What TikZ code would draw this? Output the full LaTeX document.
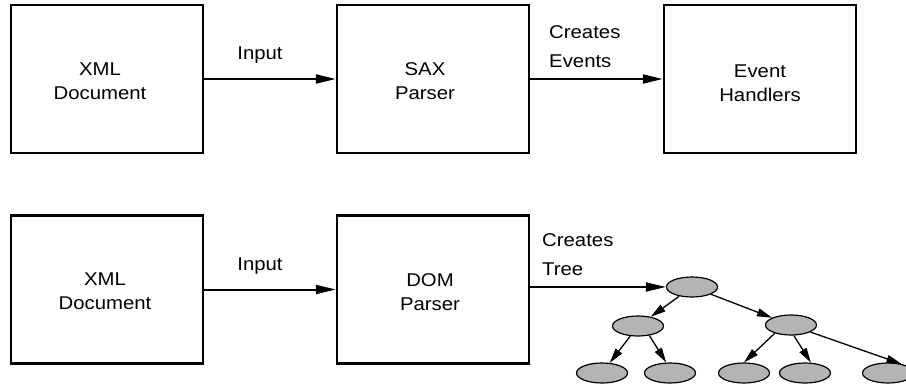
\documentclass[tikz,border=0pt]{standalone}
\usepackage{fontspec}
\setmainfont{Liberation Sans}[FakeStretch=1.1]
\usetikzlibrary{arrows.meta,shapes.geometric}
\definecolor{nodegray}{RGB}{180,180,180}
\begin{document}
\begin{tikzpicture}[x=1pt,y=-1pt,
  box/.style={draw,line width=2.4pt,minimum width=192pt,minimum height=148pt,inner sep=0pt},
  boxtext/.style={align=center,font=\fontsize{18.5}{24}\selectfont,text depth=0pt,inner sep=0pt},
  flowlabel/.style={align=left,font=\fontsize{18.5}{29}\selectfont,text depth=0pt,inner sep=0pt},
  flow/.style={line width=2pt,-{Triangle[length=20pt,width=9pt]}},
  treenode/.style={ellipse,draw,line width=1.2pt,fill=nodegray,minimum width=51pt,minimum height=20pt,inner sep=0pt},
  treeedge/.style={line width=1.3pt,-{Triangle[length=15pt,width=8pt]}}]
\useasboundingbox (0,0) rectangle (906,388);

% SAX pipeline
\node[box] (xml1) at (107,79) {};
\node[box] (sax) at (433,79) {};
\node[box] (handlers) at (760,79) {};
\node[boxtext] (xml1t) at (100,81.5) {XML\\Document};
\node[boxtext] (saxt) at (425,81.5) {SAX\\Parser};
\node[boxtext] (handlerst) at (760,83) {Event\\Handlers};
\draw[flow] (xml1) -- (sax);
\draw[flow] (sax) -- (handlers);
\node[flowlabel,anchor=base] (in1) at (260,59) {Input};
\node[flowlabel,anchor=south west] (ev) at (549,68) {Creates\\Events};

% DOM pipeline
\node[box] (xml2) at (107,289.5) {};
\node[box] (dom) at (433,289.5) {};
\node[boxtext] (xml2t) at (105,291) {XML\\Document};
\node[boxtext] (domt) at (430,292) {DOM\\Parser};
\node[treenode] (root) at (692,287) {};
\draw[flow] (xml2) -- (dom);
\draw[flow] (dom.east |- root) -- (root);
\node[flowlabel,anchor=base] (in2) at (260,270) {Input};
\node[flowlabel,anchor=south west] (tr) at (542,276) {Creates\\Tree};

% DOM tree
\node[treenode] (lm) at (638,326) {};
\node[treenode] (rm) at (791,325) {};
\node[treenode] (l1) at (602,373) {};
\node[treenode] (l2) at (670,373) {};
\node[treenode] (l3) at (744,373) {};
\node[treenode] (l4) at (805,373) {};
\node[treenode] (l5) at (888,373) {};
\draw[treeedge] (root) -- (lm);
\draw[treeedge] (root) -- (rm);
\draw[treeedge] (lm) -- (l1);
\draw[treeedge] (lm.-40) -- (l2.110);
\draw[treeedge] (rm.207) -- (l3.90);
\draw[treeedge] (rm.-75) -- (l4.60);
\draw[treeedge] (rm.-20) -- (l5.34);
\end{tikzpicture}
\end{document}
